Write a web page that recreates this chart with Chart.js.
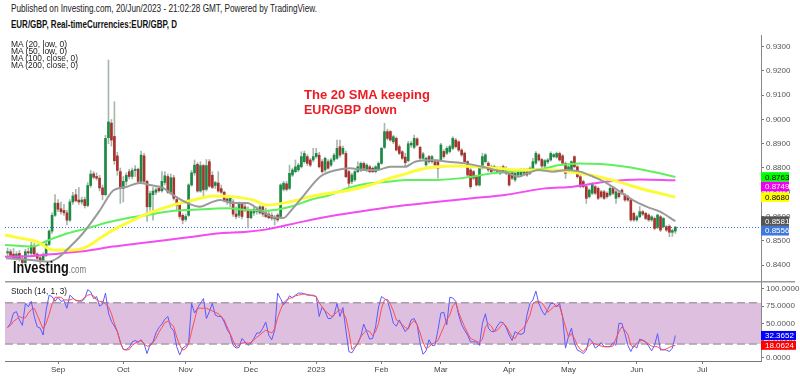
<!DOCTYPE html>
<html>
<head>
<meta charset="utf-8">
<script src="https://cdn.jsdelivr.net/npm/chart.js@4.4.0/dist/chart.umd.min.js"></script>
<style>
  body { margin:0; background:#fff; width:800px; height:376px; overflow:hidden; position:relative; font-family: Arial, "Liberation Sans", sans-serif; }
  .lbl { position:absolute; white-space:nowrap; transform-origin:0 50%; }
  #mainWrap { position:absolute; left:0; top:35px; width:800px; height:246px; }
  #stochWrap { position:absolute; left:0; top:281px; width:800px; height:95px; }
</style>
</head>
<body>
<div id="mainWrap"><canvas id="priceChart" width="800" height="246"></canvas></div>
<div id="stochWrap"><canvas id="stochChart" width="800" height="95"></canvas></div>
<script>
// trading-day index of first candle (0 = 1 Sep 2022)
const startIndex = -17;

const monthStarts = [0, 22, 43, 65, 87, 109, 129, 152, 172, 195, 217];
const monthLabels = ['Sep', 'Oct', 'Nov', 'Dec', '2023', 'Feb', 'Mar', 'Apr', 'May', 'Jun', 'Jul'];
const priceTicks = [0.84, 0.85, 0.86, 0.87, 0.88, 0.89, 0.90, 0.91, 0.92, 0.93];
const stochTicks = [0, 25, 50, 75, 100];

const opens = [
  .8450,.8455,.8445,.8430,.8448,.8425,.8410,.8455,.8448,.8478,
  .8445,.8430,.8422,.8440,.8485,.8540,.8605,.8655,.8632,.8625,
  .8615,.8585,.8660,.8690,.8668,.8660,.8670,.8645,.8728,.8776,
  .8765,.8758,.8718,.8690,.8925,.8985,.8930,.8850,.8785,.8716,
  .8745,.8785,.8765,.8790,.8795,.8745,.8850,.8745,.8640,.8690,
  .8700,.8716,.8706,.8740,.8765,.8700,.8760,.8670,.8648,.8605,
  .8588,.8605,.8730,.8780,.8815,.8705,.8810,.8712,.8826,.8770,
  .8728,.8738,.8715,.8700,.8672,.8655,.8660,.8610,.8605,.8650,
  .8640,.8625,.8595,.8615,.8630,.8615,.8640,.8615,.8610,.8605,
  .8590,.8606,.8600,.8712,.8735,.8716,.8771,.8785,.8792,.8805,
  .8826,.8847,.8833,.8833,.8847,.8853,.8826,.8792,.8826,.8812,
  .8833,.8840,.8888,.8860,.8860,.8785,.8744,.8751,.8785,.8792,
  .8819,.8792,.8805,.8799,.8785,.8795,.8819,.8885,.8950,.8950,
  .8908,.8922,.8888,.8867,.8845,.8830,.8895,.8885,.8920,.8885,
  .8840,.8813,.8847,.8826,.8826,.8826,.8833,.8868,.8861,.8868,
  .8881,.8915,.8908,.8874,.8861,.8826,.8792,.8785,.8765,.8730,
  .8799,.8826,.8820,.8806,.8792,.8799,.8778,.8806,.8778,.8785,
  .8785,.8751,.8771,.8771,.8778,.8792,.8778,.8792,.8820,.8854,
  .8835,.8808,.8825,.8833,.8847,.8845,.8860,.8850,.8819,.8785,
  .8790,.8847,.8805,.8764,.8744,.8723,.8682,.8696,.8723,.8716,
  .8702,.8702,.8696,.8689,.8716,.8675,.8696,.8709,.8689,.8682,
  .8668,.8613,.8586,.8599,.8620,.8613,.8606,.8586,.8592,.8555,
  .8599,.8558,.8558,.8560,.8535,.8540
];
const highs = [
  .8470,.8465,.8468,.8455,.8460,.8440,.8465,.8470,.8495,.8490,
  .8450,.8440,.8450,.8495,.8545,.8615,.8690,.8670,.8660,.8650,
  .8625,.8670,.8700,.8712,.8720,.8680,.8680,.8740,.8790,.8785,
  .8780,.8770,.8730,.8935,.9245,.9000,.9073,.8865,.8800,.8765,
  .8780,.8795,.8800,.8810,.8800,.8870,.8860,.8750,.8705,.8720,
  .8718,.8725,.8785,.8785,.8775,.8775,.8770,.8682,.8655,.8612,
  .8610,.8735,.8790,.8833,.8822,.8826,.8815,.8835,.8835,.8785,
  .8745,.8785,.8730,.8705,.8680,.8680,.8670,.8640,.8660,.8655,
  .8650,.8640,.8630,.8640,.8640,.8645,.8645,.8635,.8620,.8615,
  .8605,.8612,.8735,.8745,.8745,.8812,.8800,.8833,.8820,.8867,
  .8870,.8855,.8840,.8881,.8881,.8865,.8835,.8845,.8835,.8840,
  .8860,.8915,.8915,.8890,.8870,.8790,.8778,.8790,.8826,.8825,
  .8825,.8818,.8812,.8805,.8810,.8825,.8885,.8984,.8960,.8955,
  .8935,.8928,.8895,.8872,.8861,.8910,.8910,.8936,.8925,.8890,
  .8865,.8845,.8852,.8852,.8832,.8830,.8902,.8875,.8888,.8895,
  .8929,.8922,.8912,.8880,.8866,.8830,.8798,.8790,.8770,.8805,
  .8861,.8860,.8826,.8812,.8812,.8805,.8805,.8812,.8805,.8790,
  .8790,.8782,.8790,.8798,.8798,.8798,.8805,.8840,.8868,.8860,
  .8840,.8835,.8840,.8867,.8860,.8866,.8866,.8856,.8825,.8810,
  .8830,.8850,.8810,.8770,.8750,.8728,.8714,.8740,.8728,.8722,
  .8708,.8708,.8702,.8722,.8722,.8708,.8702,.8714,.8695,.8688,
  .8672,.8618,.8605,.8641,.8625,.8618,.8612,.8604,.8598,.8610,
  .8604,.8596,.8563,.8566,.8548,.8560
];
const lows = [
  .8435,.8430,.8425,.8420,.8415,.8400,.8405,.8440,.8440,.8440,
  .8420,.8405,.8415,.8435,.8480,.8530,.8600,.8620,.8610,.8605,
  .8565,.8580,.8650,.8660,.8650,.8650,.8635,.8640,.8720,.8755,
  .8750,.8705,.8670,.8685,.8900,.8890,.8815,.8770,.8654,.8660,
  .8730,.8755,.8755,.8765,.8735,.8740,.8740,.8580,.8625,.8585,
  .8690,.8700,.8700,.8730,.8695,.8695,.8668,.8627,.8590,.8570,
  .8580,.8600,.8725,.8770,.8700,.8700,.8675,.8705,.8720,.8715,
  .8715,.8700,.8695,.8660,.8650,.8640,.8600,.8590,.8595,.8590,
  .8620,.8553,.8590,.8605,.8610,.8610,.8600,.8595,.8590,.8585,
  .8565,.8580,.8595,.8705,.8705,.8710,.8765,.8780,.8785,.8800,
  .8820,.8810,.8805,.8825,.8840,.8800,.8780,.8785,.8795,.8805,
  .8825,.8835,.8845,.8855,.8760,.8723,.8735,.8745,.8780,.8785,
  .8795,.8785,.8780,.8780,.8780,.8790,.8815,.8880,.8915,.8910,
  .8900,.8870,.8855,.8835,.8806,.8825,.8885,.8880,.8890,.8835,
  .8835,.8808,.8820,.8820,.8808,.8758,.8828,.8840,.8855,.8862,
  .8875,.8882,.8868,.8848,.8820,.8765,.8716,.8752,.8725,.8725,
  .8795,.8820,.8785,.8780,.8786,.8780,.8772,.8780,.8772,.8725,
  .8752,.8744,.8765,.8765,.8772,.8765,.8772,.8786,.8815,.8828,
  .8802,.8800,.8818,.8828,.8842,.8840,.8828,.8815,.8757,.8780,
  .8785,.8800,.8758,.8718,.8718,.8654,.8676,.8690,.8690,.8670,
  .8676,.8670,.8676,.8684,.8690,.8654,.8676,.8690,.8662,.8662,
  .8580,.8580,.8580,.8594,.8604,.8586,.8580,.8580,.8545,.8550,
  .8538,.8552,.8538,.8517,.8518,.8530
];
const closes = [
  .8455,.8440,.8430,.8445,.8425,.8410,.8455,.8450,.8480,.8445,
  .8428,.8420,.8440,.8485,.8540,.8605,.8655,.8630,.8620,.8615,
  .8585,.8660,.8685,.8665,.8660,.8668,.8645,.8728,.8775,.8762,
  .8758,.8718,.8690,.8922,.8990,.8915,.8830,.8790,.8716,.8745,
  .8770,.8765,.8790,.8795,.8745,.8853,.8745,.8640,.8695,.8705,
  .8710,.8706,.8745,.8768,.8700,.8760,.8675,.8645,.8600,.8585,
  .8600,.8730,.8780,.8812,.8705,.8810,.8710,.8810,.8725,.8720,
  .8740,.8705,.8700,.8665,.8660,.8675,.8610,.8600,.8650,.8600,
  .8630,.8595,.8625,.8630,.8620,.8640,.8610,.8600,.8595,.8593,
  .8595,.8586,.8730,.8737,.8712,.8778,.8792,.8805,.8812,.8847,
  .8860,.8819,.8812,.8847,.8860,.8805,.8785,.8840,.8799,.8833,
  .8853,.8881,.8853,.8881,.8764,.8737,.8771,.8785,.8805,.8819,
  .8799,.8812,.8785,.8785,.8805,.8819,.8881,.8950,.8922,.8915,
  .8929,.8874,.8860,.8840,.8822,.8900,.8902,.8922,.8895,.8840,
  .8858,.8840,.8826,.8847,.8813,.8799,.8895,.8847,.8881,.8888,
  .8922,.8888,.8874,.8854,.8826,.8771,.8723,.8758,.8730,.8799,
  .8847,.8854,.8792,.8785,.8806,.8785,.8799,.8785,.8799,.8730,
  .8758,.8778,.8785,.8792,.8792,.8771,.8799,.8826,.8861,.8833,
  .8808,.8830,.8833,.8860,.8855,.8860,.8833,.8820,.8778,.8805,
  .8826,.8805,.8764,.8723,.8723,.8675,.8709,.8737,.8696,.8675,
  .8682,.8675,.8682,.8716,.8696,.8702,.8682,.8696,.8668,.8668,
  .8586,.8586,.8599,.8620,.8610,.8592,.8586,.8599,.8551,.8606,
  .8544,.8592,.8544,.8535,.8542,.8556
];

// moving averages: [trading-day index, value]
const ma20 = [[-17.5,.8428],[-10,.8422],[-3.4,.8414],[0,.8430],[2.9,.8462],[8.4,.8531],[14.2,.8627],[18.5,.8706],[23.2,.8723],[27.6,.8738],[31,.8730],[35.4,.8718],[38.7,.8689],[43.5,.8656],[47.8,.8640],[51.2,.8656],[54.6,.8668],[59,.8656],[63.7,.8656],[68.1,.8625],[73,.8596],[76,.8594],[78.2,.8620],[82.5,.8682],[88.3,.8764],[94,.8792],[98.4,.8799],[102.8,.8792],[107.5,.8792],[111.9,.8805],[116.9,.8805],[120.3,.8826],[126,.8833],[131.4,.8826],[137.1,.8819],[142.9,.8805],[147.2,.8792],[151.6,.8779],[155,.8764],[158.4,.8779],[161.7,.8792],[166.8,.8785],[171.5,.8792],[175.9,.8785],[180.3,.8764],[185,.8737],[189.4,.8702],[193.7,.8668],[198.5,.8640],[202.8,.8620],[208,.8581]];
const ma50 = [[-17.9,.8524],[-12.8,.8511],[-7.1,.8496],[-1.7,.8462],[5.1,.8462],[9.8,.8476],[14.2,.8511],[18.5,.8544],[23.2,.8573],[27.6,.8599],[32,.8620],[38.7,.8647],[45.5,.8668],[52.2,.8685],[59,.8682],[65.7,.8668],[70.4,.8647],[78.2,.8661],[84.9,.8682],[91.6,.8696],[98.4,.8709],[105.1,.8730],[111.9,.8758],[117.6,.8778],[121.3,.8792],[128,.8805],[134.8,.8808],[141.5,.8805],[148.2,.8799],[155,.8792],[161.7,.8792],[169.1,.8790],[175.9,.8778],[182.6,.8762],[188.3,.8745],[193.7,.8725],[199.5,.8705],[208,.8680]];
const ma100 = [[-17.9,.8483],[-8.4,.8476],[-3.7,.8500],[3,.8530],[9.8,.8551],[16.5,.8575],[23.2,.8593],[30,.8606],[36.7,.8620],[43.5,.8627],[50.2,.8631],[56.9,.8634],[63.7,.8627],[70.4,.8624],[78.2,.8640],[84.9,.8668],[91.6,.8689],[98.4,.8720],[105.1,.8737],[111.9,.8744],[117.6,.8751],[128,.8751],[139.5,.8764],[146.2,.8778],[153,.8785],[159.7,.8792],[164.1,.8799],[169.1,.8812],[175.9,.8819],[182.6,.8816],[189.4,.8808],[196.1,.8795],[202.8,.8778],[208,.8763]];
const ma200 = [[-17.9,.8434],[-8.4,.8437],[0.7,.8448],[9.8,.8459],[18.5,.8476],[27.6,.8490],[36.7,.8503],[45.5,.8517],[54.6,.8531],[63.7,.8537],[70.4,.8547],[82.5,.8579],[94,.8606],[105.1,.8627],[117.6,.8647],[128,.8661],[139.5,.8675],[150.6,.8689],[164.1,.8716],[173.5,.8723],[185,.8744],[196.1,.8753],[208,.8749]];

// stochastic %K (blue) and %D (red), one value per candle
const stochK = [
  44,50,65,67,55,47,79,74,82,60,
  45,43,33,69,91,89,82,88,82,83,
  72,91,87,83,83,82,86,99,96,86,
  89,75,78,94,65,53,46,38,23,12,
  12,15,23,25,23,26,20,6,19,23,
  36,44,49,56,60,44,39,16,4,14,
  17,21,79,65,72,79,86,57,67,79,
  62,60,60,52,41,34,18,14,15,28,
  23,18,21,28,36,36,43,52,33,26,
  40,94,86,77,82,90,87,91,94,94,
  93,91,91,91,89,60,74,67,57,57,
  62,79,60,73,40,9,7,14,21,31,
  49,38,27,28,45,74,89,86,83,68,
  50,46,55,46,38,43,55,57,48,21,
  5,10,26,18,18,40,65,66,48,88,
  87,82,62,48,40,33,23,23,23,18,
  50,64,43,38,38,46,52,51,44,33,
  25,38,35,34,36,62,79,84,97,79,
  69,62,70,79,79,74,79,60,14,31,
  43,21,11,9,6,11,28,23,14,17,
  22,16,16,16,22,18,50,50,35,18,
  9,18,14,27,25,23,17,10,18,35,
  11,12,11,9,14,32.3652
];
const stochD = [
  44,47,53,56,60,58,58,65,70,72,
  62,52,42,50,63,78,88,88,88,84,
  84,84,86,84,82,84,88,91,92,90,
  84,82,82,78,74,64,50,38,22,12,
  11,12,18,21,23,25,20,17,17,22,
  28,37,44,51,53,50,45,30,18,11,
  13,20,38,55,72,72,72,72,70,68,
  66,64,60,55,45,35,25,16,18,21,
  22,21,22,26,30,33,37,40,38,36,
  42,58,70,80,84,86,88,90,91,92,
  93,92,91,90,89,80,74,68,65,60,
  62,67,70,66,58,38,12,16,20,30,
  36,40,38,32,38,50,72,84,85,78,
  68,55,52,48,44,42,50,54,48,36,
  22,13,16,20,22,25,35,45,55,62,
  75,80,66,55,45,36,28,26,24,22,
  27,45,50,46,38,40,45,50,46,38,
  30,28,36,40,44,52,62,78,82,82,
  80,74,66,70,74,76,75,60,45,30,
  35,28,18,12,9,14,18,22,20,18,
  17,16,16,16,17,28,38,45,40,34,
  18,15,21,24,26,23,20,17,16,16,
  13,11,13,15,17,18.0624
];

const xMin = -17.86, xMax = 236.86;
const tickFont = { family: "'Liberation Sans Narrow', Arial, sans-serif", size: 8 };
const upColor = '#1b8a45', downColor = '#a8322d', wickColor = '#a9b6ae';

const dayIdx = closes.map((_, k) => startIndex + k);
const wickData = dayIdx.map((d, k) => ({ x: d, y: [lows[k], highs[k]] }));
const bodyData = dayIdx.map((d, k) => ({ x: d, y: [opens[k], closes[k]] }));
const bodyColors = closes.map((c, k) => c >= opens[k] ? upColor : downColor);
const toXY = arr => arr.map(p => ({ x: p[0], y: p[1] }));
const last = arr => arr[arr.length - 1][1];

// right-hand axis: fixed width, no extra label padding above/below the plot
function fitRightAxis(s) {
  s.width = 39;
  s.paddingTop = 0;
  s.paddingBottom = 0;
}

function drawTags(chart, axisId, tags, boxW, boxH) {
  const { ctx, chartArea } = chart;
  const scale = chart.scales[axisId];
  const items = tags.map(t => Object.assign({ py: scale.getPixelForValue(t.v) }, t)).sort((a, b) => a.py - b.py);
  let prevBottom = -1e9;
  ctx.save();
  ctx.font = "8px 'Liberation Sans Narrow', Arial, sans-serif";
  ctx.textBaseline = 'middle';
  items.forEach(t => {
    let top = Math.max(t.py - boxH / 2, prevBottom);
    prevBottom = top + boxH;
    ctx.fillStyle = t.bg;
    ctx.fillRect(chartArea.right, top, boxW, boxH);
    ctx.fillStyle = t.fg;
    ctx.fillText(t.text, chartArea.right + 4, top + boxH / 2 + 0.5);
  });
  ctx.restore();
}

const lastClose = closes[closes.length - 1];

const pricePlugin = {
  id: 'priceExtras',
  beforeDatasetsDraw(chart) {
    const { ctx, chartArea, scales } = chart;
    const y = Math.round(scales.y.getPixelForValue(lastClose)) + 0.5;
    ctx.save();
    ctx.strokeStyle = '#4a6fe0';
    ctx.lineWidth = 1;
    ctx.setLineDash([1, 2]);
    ctx.beginPath();
    ctx.moveTo(chartArea.left, y);
    ctx.lineTo(chartArea.right, y);
    ctx.stroke();
    ctx.restore();
  },
  afterDraw(chart) {
    drawTags(chart, 'y', [
      { v: last(ma100), text: last(ma100).toFixed(4), bg: '#00ff00', fg: '#000' },
      { v: last(ma200), text: last(ma200).toFixed(4), bg: '#f000f0', fg: '#fff' },
      { v: last(ma50), text: last(ma50).toFixed(4), bg: '#ffff00', fg: '#000' },
      { v: last(ma20), text: last(ma20).toFixed(4), bg: '#555555', fg: '#fff' },
      { v: lastClose, text: lastClose.toFixed(4), bg: '#3f78dc', fg: '#fff' }
    ], 28, 9.6);
  }
};

const stochPlugin = {
  id: 'stochExtras',
  beforeDatasetsDraw(chart) {
    const { ctx, chartArea, scales } = chart;
    const y80 = scales.y.getPixelForValue(80), y20 = scales.y.getPixelForValue(20);
    ctx.save();
    ctx.fillStyle = '#dfbfdf';
    ctx.fillRect(chartArea.left, y80, chartArea.right - chartArea.left, y20 - y80);
    ctx.strokeStyle = '#a89ca8';
    ctx.lineWidth = 1.5;
    ctx.setLineDash([8, 4]);
    [y80, y20].forEach(y => {
      ctx.beginPath();
      ctx.moveTo(chartArea.left, y);
      ctx.lineTo(chartArea.right, y);
      ctx.stroke();
    });
    ctx.restore();
  },
  afterDraw(chart) {
    const { ctx, chartArea } = chart;
    ctx.save();
    ctx.strokeStyle = '#999';
    ctx.lineWidth = 1.5;
    ctx.beginPath();
    ctx.moveTo(chartArea.left, 0.75);
    ctx.lineTo(795, 0.75);
    ctx.stroke();
    ctx.restore();
    drawTags(chart, 'y', [
      { v: stochK[stochK.length - 1], text: stochK[stochK.length - 1].toFixed(4), bg: '#0000ff', fg: '#fff' },
      { v: stochD[stochD.length - 1], text: stochD[stochD.length - 1].toFixed(4), bg: '#ff0000', fg: '#fff' }
    ], 35, 9);
  }
};

new Chart(document.getElementById('priceChart'), {
  type: 'bar',
  data: {
    datasets: [
      { type: 'line', data: toXY(ma20), borderColor: '#9a9a9a', borderWidth: 2, pointRadius: 0, cubicInterpolationMode: 'monotone', order: 0 },
      { type: 'line', data: toXY(ma50), borderColor: '#fbfb3a', borderWidth: 3, pointRadius: 0, cubicInterpolationMode: 'monotone', order: 1 },
      { type: 'line', data: toXY(ma100), borderColor: '#5ef05e', borderWidth: 2, pointRadius: 0, cubicInterpolationMode: 'monotone', order: 2 },
      { type: 'line', data: toXY(ma200), borderColor: '#f24cf2', borderWidth: 2, pointRadius: 0, cubicInterpolationMode: 'monotone', order: 3 },
      { type: 'bar', data: bodyData, backgroundColor: bodyColors, barThickness: 2, minBarLength: 1, grouped: false, order: 5 },
      { type: 'bar', data: wickData, backgroundColor: wickColor, barThickness: 1, grouped: false, order: 6 }
    ]
  },
  options: {
    responsive: false,
    animation: false,
    layout: { padding: { left: 5, right: 0, top: 0, bottom: 0 } },
    plugins: { legend: { display: false }, tooltip: { enabled: false } },
    scales: {
      x: { type: 'linear', min: xMin, max: xMax, display: false, offset: false, grid: { offset: false } },
      y: {
        position: 'right', min: 0.83342, max: 0.93482,
        afterFit: fitRightAxis,
        afterBuildTicks: s => { s.ticks = priceTicks.map(v => ({ value: v })); },
        ticks: { callback: v => v.toFixed(4), font: tickFont, color: '#555', padding: 2 },
        grid: { drawOnChartArea: false, tickLength: 3, color: '#777' },
        border: { color: '#888' }
      }
    }
  },
  plugins: [pricePlugin]
});

new Chart(document.getElementById('stochChart'), {
  type: 'line',
  data: {
    datasets: [
      { data: dayIdx.map((d, k) => ({ x: d, y: stochD[k] })), borderColor: '#ff4d4d', borderWidth: 1, pointRadius: 0 },
      { data: dayIdx.map((d, k) => ({ x: d, y: stochK[k] })), borderColor: '#5a5aff', borderWidth: 1, pointRadius: 0 }
    ]
  },
  options: {
    responsive: false,
    animation: false,
    layout: { padding: { left: 5, right: 0, top: 0, bottom: 0 } },
    plugins: { legend: { display: false }, tooltip: { enabled: false } },
    scales: {
      x: {
        type: 'linear', min: xMin, max: xMax,
        afterFit: s => { s.height = 15; s.paddingLeft = 0; s.paddingRight = 0; },
        afterBuildTicks: s => { s.ticks = monthStarts.map(v => ({ value: v })); },
        ticks: { callback: v => monthLabels[monthStarts.indexOf(v)], font: tickFont, color: '#444', maxRotation: 0, autoSkip: false, padding: 1 },
        grid: { drawOnChartArea: false, tickLength: 3, color: '#777' },
        border: { color: '#777' }
      },
      y: {
        position: 'right', min: -4.8, max: 111.64,
        afterFit: fitRightAxis,
        afterBuildTicks: s => { s.ticks = stochTicks.map(v => ({ value: v })); },
        ticks: { callback: v => v.toFixed(4), font: tickFont, color: '#555', padding: 2 },
        grid: { drawOnChartArea: false, tickLength: 3, color: '#777' },
        border: { color: '#888' }
      }
    }
  },
  plugins: [stochPlugin]
});

// text overlays: [text, left, centre y, font size, target width, colour, bold]
const overlayTexts = [
  ['Published on Investing.com, 20/Jun/2023 - 21:02:28 GMT, Powered by TradingView.', 11, 9, 10, 306, '#222', false],
  ['EUR/GBP, Real-timeCurrencies:EUR/GBP, D', 11, 25, 10, 166, '#111', true],
  ['MA (20, low, 0)', 11, 44, 9.5, 56, '#222', false],
  ['MA (50, low, 0)', 11, 51, 9.5, 56, '#222', false],
  ['MA (100, close, 0)', 11, 58, 9.5, 67, '#222', false],
  ['MA (200, close, 0)', 11, 65, 9.5, 67, '#222', false],
  ['The 20 SMA keeping', 304, 94.5, 13, 126, '#ec1c24', true],
  ['EUR/GBP down', 304, 109.5, 13, 93, '#ec1c24', true],
  ['Stoch (14, 1, 3)', 11, 291, 9.5, 56, '#222', false]
];
overlayTexts.forEach(([t, x, cy, fs, w, c, b]) => {
  const el = document.createElement('div');
  el.className = 'lbl';
  el.textContent = t;
  el.style.cssText = `left:${x}px;top:${cy - fs / 2}px;font-size:${fs}px;line-height:${fs}px;color:${c};font-weight:${b ? 'bold' : 'normal'}`;
  document.body.appendChild(el);
  el.style.transform = `scaleX(${w / el.getBoundingClientRect().width})`;
});

const logo = document.createElement('div');
logo.className = 'lbl';
logo.innerHTML = '<span style="font-weight:bold;font-size:16px;color:#111">Investing</span><span style="font-size:10px;color:#777">.com</span>';
logo.style.cssText = 'left:13px;top:260px;line-height:16px;';
document.body.appendChild(logo);
logo.style.transform = `scaleX(${73 / logo.getBoundingClientRect().width})`;
</script>
</body>
</html>
